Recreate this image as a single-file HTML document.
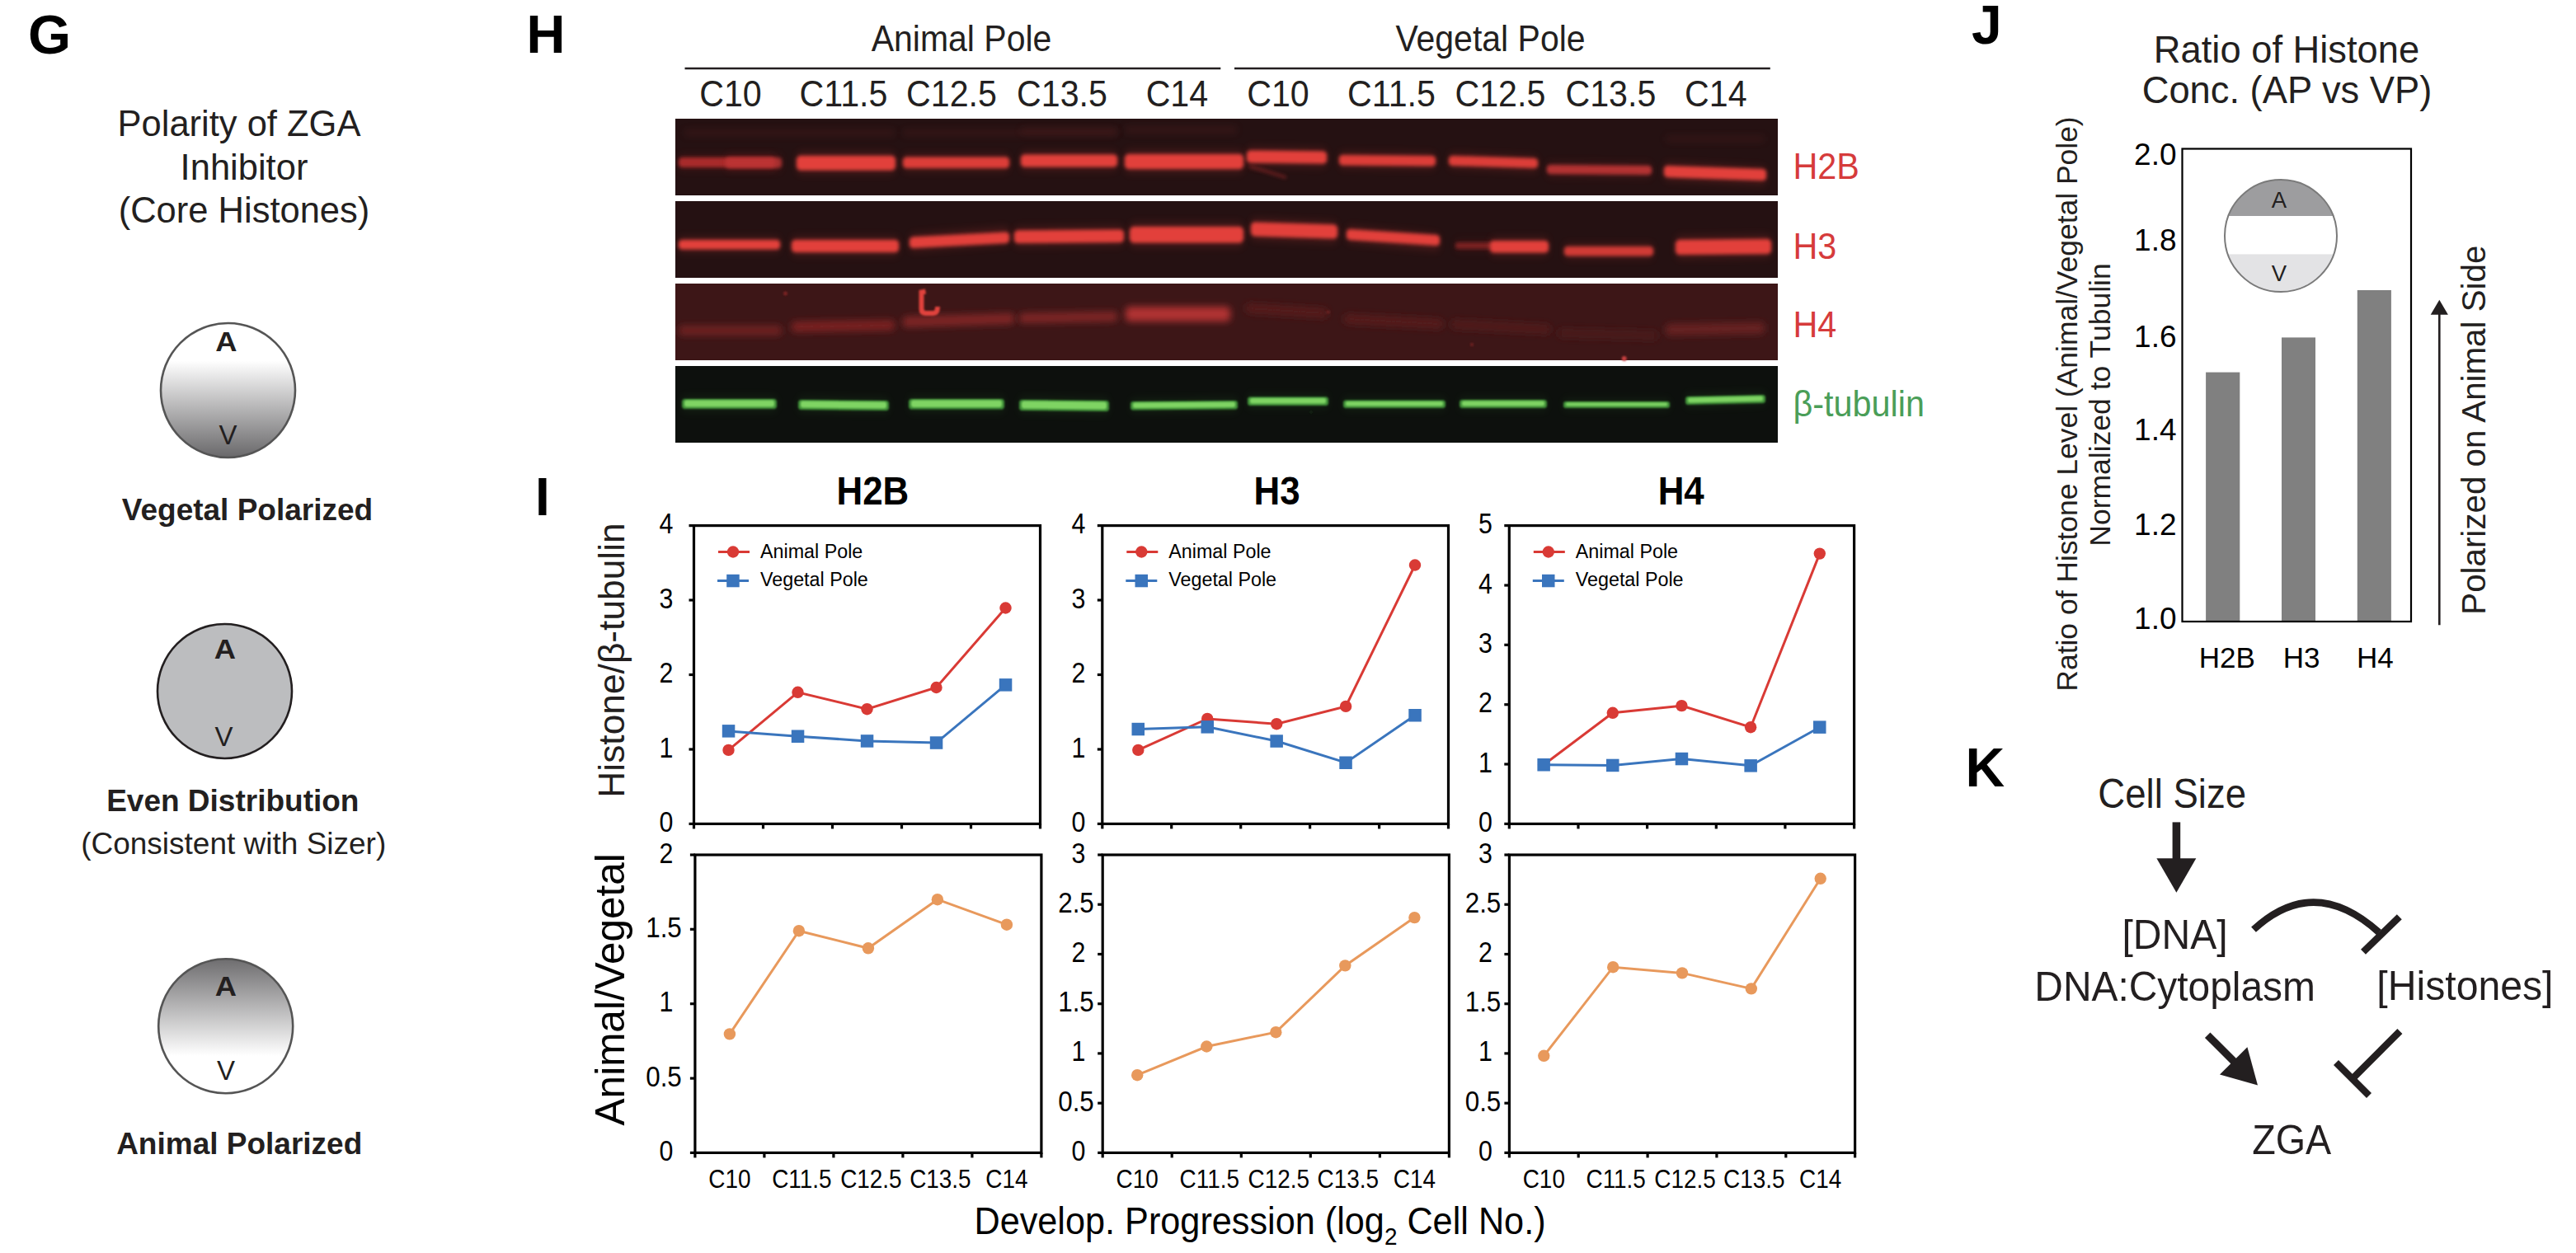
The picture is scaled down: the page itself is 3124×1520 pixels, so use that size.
<!DOCTYPE html><html><head><meta charset="utf-8"><style>html,body{margin:0;padding:0;background:#fff;width:3124px;height:1520px;overflow:hidden}svg{display:block}text{font-family:"Liberation Sans", sans-serif}</style></head><body>
<svg width="3124" height="1520" viewBox="0 0 3124 1520">
<defs>
<linearGradient id="gv" x1="0" y1="0" x2="0" y2="1"><stop offset="0" stop-color="#fff"/><stop offset="0.28" stop-color="#fff"/><stop offset="1" stop-color="#69686a"/></linearGradient>
<linearGradient id="ga" x1="0" y1="0" x2="0" y2="1"><stop offset="0" stop-color="#6e6d6f"/><stop offset="0.72" stop-color="#fff"/><stop offset="1" stop-color="#fff"/></linearGradient>
<filter id="b2" x="-10%" y="-100%" width="120%" height="300%"><feGaussianBlur stdDeviation="2.2"/></filter>
<filter id="b4" x="-10%" y="-100%" width="120%" height="300%"><feGaussianBlur stdDeviation="4"/></filter>
<filter id="b1" x="-10%" y="-100%" width="120%" height="300%"><feGaussianBlur stdDeviation="1.2"/></filter>
<clipPath id="c1"><rect x="819" y="144" width="1337" height="93"/></clipPath>
<clipPath id="c2"><rect x="819" y="244" width="1337" height="93"/></clipPath>
<clipPath id="c3"><rect x="819" y="344" width="1337" height="93"/></clipPath>
<clipPath id="c4"><rect x="819" y="444" width="1337" height="93"/></clipPath>
</defs>
<text x="34.0" y="65.0" font-size="67.0" text-anchor="start" font-weight="bold" fill="#000" >G</text>
<text x="290.0" y="165.0" font-size="43.5" text-anchor="middle" font-weight="normal" fill="#231f20" >Polarity of ZGA</text>
<text x="296.0" y="218.0" font-size="43.5" text-anchor="middle" font-weight="normal" fill="#231f20" >Inhibitor</text>
<text x="296.0" y="270.0" font-size="43.5" text-anchor="middle" font-weight="normal" fill="#231f20" >(Core Histones)</text>
<circle cx="276.5" cy="473.5" r="81.5" fill="url(#gv)" stroke="#555" stroke-width="2.6"/>
<text transform="translate(274.5,426.3) scale(1.12,1)" font-size="32.5" text-anchor="middle" font-weight="bold" fill="#231f20">A</text>
<text x="276.5" y="539.2" font-size="33.0" text-anchor="middle" font-weight="normal" fill="#231f20" >V</text>
<text x="300.0" y="631.0" font-size="37.0" text-anchor="middle" font-weight="bold" fill="#231f20" >Vegetal Polarized</text>
<circle cx="272.5" cy="838.5" r="81.5" fill="#bcbdbf" stroke="#231f20" stroke-width="2.6"/>
<text transform="translate(273,798.7) scale(1.12,1)" font-size="32.5" text-anchor="middle" font-weight="bold" fill="#231f20">A</text>
<text x="271.5" y="905.4" font-size="33.0" text-anchor="middle" font-weight="normal" fill="#231f20" >V</text>
<text x="282.3" y="983.8" font-size="37.0" text-anchor="middle" font-weight="bold" fill="#231f20" >Even Distribution</text>
<text x="283.2" y="1036.0" font-size="37.0" text-anchor="middle" font-weight="normal" fill="#231f20" >(Consistent with Sizer)</text>
<circle cx="273.7" cy="1244.8" r="81.5" fill="url(#ga)" stroke="#555" stroke-width="2.6"/>
<text transform="translate(274,1207.6) scale(1.12,1)" font-size="32.5" text-anchor="middle" font-weight="bold" fill="#231f20">A</text>
<text x="274.0" y="1310.2" font-size="33.0" text-anchor="middle" font-weight="normal" fill="#231f20" >V</text>
<text x="290.2" y="1399.8" font-size="37.0" text-anchor="middle" font-weight="bold" fill="#231f20" >Animal Polarized</text>
<text x="638.5" y="64.0" font-size="65.0" text-anchor="start" font-weight="bold" fill="#000" >H</text>
<text transform="translate(1166.0,62.0) scale(1.000,1.080)" font-size="41.0" text-anchor="middle" font-weight="normal" fill="#231f20">Animal Pole</text>
<text transform="translate(1807.5,62.0) scale(1.000,1.080)" font-size="41.0" text-anchor="middle" font-weight="normal" fill="#231f20">Vegetal Pole</text>
<line x1="830.5" y1="83" x2="1480.3" y2="83" stroke="#231f20" stroke-width="2.4"/>
<line x1="1497" y1="83" x2="2146.8" y2="83" stroke="#231f20" stroke-width="2.4"/>
<text transform="translate(886.0,129.2) scale(1.000,1.080)" font-size="41.2" text-anchor="middle" font-weight="normal" fill="#231f20">C10</text>
<text transform="translate(1023.0,129.2) scale(1.000,1.080)" font-size="41.2" text-anchor="middle" font-weight="normal" fill="#231f20">C11.5</text>
<text transform="translate(1154.0,129.2) scale(1.000,1.080)" font-size="41.2" text-anchor="middle" font-weight="normal" fill="#231f20">C12.5</text>
<text transform="translate(1288.0,129.2) scale(1.000,1.080)" font-size="41.2" text-anchor="middle" font-weight="normal" fill="#231f20">C13.5</text>
<text transform="translate(1427.4,129.2) scale(1.000,1.080)" font-size="41.2" text-anchor="middle" font-weight="normal" fill="#231f20">C14</text>
<text transform="translate(1550.0,129.2) scale(1.000,1.080)" font-size="41.2" text-anchor="middle" font-weight="normal" fill="#231f20">C10</text>
<text transform="translate(1687.5,129.2) scale(1.000,1.080)" font-size="41.2" text-anchor="middle" font-weight="normal" fill="#231f20">C11.5</text>
<text transform="translate(1819.4,129.2) scale(1.000,1.080)" font-size="41.2" text-anchor="middle" font-weight="normal" fill="#231f20">C12.5</text>
<text transform="translate(1953.4,129.2) scale(1.000,1.080)" font-size="41.2" text-anchor="middle" font-weight="normal" fill="#231f20">C13.5</text>
<text transform="translate(2080.8,129.2) scale(1.000,1.080)" font-size="41.2" text-anchor="middle" font-weight="normal" fill="#231f20">C14</text>
<filter id="fb2" filterUnits="userSpaceOnUse" x="800" y="130" width="1380" height="420"><feGaussianBlur stdDeviation="1.9"/></filter>
<filter id="fb4" filterUnits="userSpaceOnUse" x="800" y="130" width="1380" height="420"><feGaussianBlur stdDeviation="4.5"/></filter>
<filter id="fb1" filterUnits="userSpaceOnUse" x="800" y="130" width="1380" height="420"><feGaussianBlur stdDeviation="1.3"/></filter>
<filter id="fb8" filterUnits="userSpaceOnUse" x="800" y="130" width="1380" height="420"><feGaussianBlur stdDeviation="8"/></filter>
<rect x="819" y="144" width="1337" height="93" fill="#251112"/>
<rect x="819" y="244" width="1337" height="93" fill="#251112"/>
<rect x="819" y="344" width="1337" height="93" fill="#3d1617"/>
<rect x="819" y="444" width="1337" height="93" fill="#0d100d"/>
<g clip-path="url(#c1)"><polygon points="830.0,158.6 832.0,157.0 1083.0,157.0 1085.0,158.6 1085.0,163.4 1083.0,165.0 832.0,165.0 830.0,163.4" fill="#5a2020" opacity="0.30" filter="url(#fb4)"/></g>
<g clip-path="url(#c1)"><polygon points="1095.0,158.6 1097.0,157.0 1353.0,157.0 1355.0,158.6 1355.0,163.4 1353.0,165.0 1097.0,165.0 1095.0,163.4" fill="#5a2020" opacity="0.30" filter="url(#fb4)"/></g>
<g clip-path="url(#c1)"><polygon points="1238.0,156.6 1240.0,155.0 1353.0,155.0 1355.0,156.6 1355.0,161.4 1353.0,163.0 1240.0,163.0 1238.0,161.4" fill="#5a2020" opacity="0.30" filter="url(#fb4)"/></g>
<g clip-path="url(#c1)"><polygon points="1364.0,154.8 1366.2,153.0 1497.8,153.0 1500.0,154.8 1500.0,160.2 1497.8,162.0 1366.2,162.0 1364.0,160.2" fill="#5a2020" opacity="0.30" filter="url(#fb4)"/></g>
<g clip-path="url(#c1)"><polygon points="2020.0,166.4 2021.8,165.0 2138.2,165.0 2140.0,166.4 2140.0,170.6 2138.2,172.0 2021.8,172.0 2020.0,170.6" fill="#5a2020" opacity="0.30" filter="url(#fb4)"/></g>
<g clip-path="url(#c1)"><polygon points="823.0,193.4 826.0,191.0 937.0,191.0 940.0,193.4 940.0,200.6 937.0,203.0 826.0,203.0 823.0,200.6" fill="#a82c2c" opacity="0.22" filter="url(#fb4)" transform="translate(0,197.0) scale(1,1.35) translate(0,-197.0)"/></g>
<g clip-path="url(#c1)"><polygon points="823.0,193.4 826.0,191.0 937.0,191.0 940.0,193.4 940.0,200.6 937.0,203.0 826.0,203.0 823.0,200.6" fill="#a82c2c" opacity="1.00" filter="url(#fb2)"/></g>
<g clip-path="url(#c1)"><polygon points="880.0,193.6 883.0,191.0 945.0,191.0 948.0,193.6 948.0,201.4 945.0,204.0 883.0,204.0 880.0,201.4" fill="#c03434" opacity="0.18" filter="url(#fb4)" transform="translate(0,197.5) scale(1,1.35) translate(0,-197.5)"/></g>
<g clip-path="url(#c1)"><polygon points="880.0,193.6 883.0,191.0 945.0,191.0 948.0,193.6 948.0,201.4 945.0,204.0 883.0,204.0 880.0,201.4" fill="#c03434" opacity="0.80" filter="url(#fb2)"/></g>
<g clip-path="url(#c1)"><polygon points="966.0,192.5 969.0,189.0 1083.0,189.0 1086.0,192.5 1086.0,203.0 1083.0,206.5 969.0,206.5 966.0,203.0" fill="#e2403b" opacity="0.22" filter="url(#fb4)" transform="translate(0,197.8) scale(1,1.35) translate(0,-197.8)"/></g>
<g clip-path="url(#c1)"><polygon points="966.0,192.5 969.0,189.0 1083.0,189.0 1086.0,192.5 1086.0,203.0 1083.0,206.5 969.0,206.5 966.0,203.0" fill="#e2403b" opacity="1.00" filter="url(#fb2)"/></g>
<g clip-path="url(#c1)"><polygon points="1095.0,193.2 1098.0,190.5 1221.0,190.5 1224.0,193.2 1224.0,201.3 1221.0,204.0 1098.0,204.0 1095.0,201.3" fill="#dc3e39" opacity="0.22" filter="url(#fb4)" transform="translate(0,197.2) scale(1,1.35) translate(0,-197.2)"/></g>
<g clip-path="url(#c1)"><polygon points="1095.0,193.2 1098.0,190.5 1221.0,190.5 1224.0,193.2 1224.0,201.3 1221.0,204.0 1098.0,204.0 1095.0,201.3" fill="#dc3e39" opacity="1.00" filter="url(#fb2)"/></g>
<g clip-path="url(#c1)"><polygon points="1238.0,190.5 1241.0,187.5 1352.0,187.5 1355.0,190.5 1355.0,199.5 1352.0,202.5 1241.0,202.5 1238.0,199.5" fill="#e2403b" opacity="0.22" filter="url(#fb4)" transform="translate(0,195.0) scale(1,1.35) translate(0,-195.0)"/></g>
<g clip-path="url(#c1)"><polygon points="1238.0,190.5 1241.0,187.5 1352.0,187.5 1355.0,190.5 1355.0,199.5 1352.0,202.5 1241.0,202.5 1238.0,199.5" fill="#e2403b" opacity="1.00" filter="url(#fb2)"/></g>
<g clip-path="url(#c1)"><polygon points="1364.0,190.6 1367.0,187.0 1505.0,187.0 1508.0,190.6 1508.0,201.4 1505.0,205.0 1367.0,205.0 1364.0,201.4" fill="#e2403b" opacity="0.22" filter="url(#fb4)" transform="translate(0,196.0) scale(1,1.35) translate(0,-196.0)"/></g>
<g clip-path="url(#c1)"><polygon points="1364.0,190.6 1367.0,187.0 1505.0,187.0 1508.0,190.6 1508.0,201.4 1505.0,205.0 1367.0,205.0 1364.0,201.4" fill="#e2403b" opacity="1.00" filter="url(#fb2)"/></g>
<g clip-path="url(#c1)"><polygon points="1512.0,185.5 1515.0,182.5 1606.0,183.5 1609.0,186.5 1609.0,195.5 1606.0,198.5 1515.0,197.5 1512.0,194.5" fill="#e2403b" opacity="0.22" filter="url(#fb4)" transform="translate(0,190.0) scale(1,1.35) translate(0,-190.0)"/></g>
<g clip-path="url(#c1)"><polygon points="1512.0,185.5 1515.0,182.5 1606.0,183.5 1609.0,186.5 1609.0,195.5 1606.0,198.5 1515.0,197.5 1512.0,194.5" fill="#e2403b" opacity="1.00" filter="url(#fb2)"/></g>
<g clip-path="url(#c1)"><polygon points="1624.0,190.5 1627.0,188.0 1738.0,189.0 1741.0,191.5 1741.0,199.0 1738.0,201.5 1627.0,200.5 1624.0,198.0" fill="#dc3e39" opacity="0.22" filter="url(#fb4)" transform="translate(0,194.2) scale(1,1.35) translate(0,-194.2)"/></g>
<g clip-path="url(#c1)"><polygon points="1624.0,190.5 1627.0,188.0 1738.0,189.0 1741.0,191.5 1741.0,199.0 1738.0,201.5 1627.0,200.5 1624.0,198.0" fill="#dc3e39" opacity="1.00" filter="url(#fb2)"/></g>
<g clip-path="url(#c1)"><polygon points="1757.0,191.4 1760.0,189.0 1862.0,192.0 1865.0,194.4 1865.0,201.6 1862.0,204.0 1760.0,201.0 1757.0,198.6" fill="#dc3e39" opacity="0.22" filter="url(#fb4)" transform="translate(0,195.0) scale(1,1.35) translate(0,-195.0)"/></g>
<g clip-path="url(#c1)"><polygon points="1757.0,191.4 1760.0,189.0 1862.0,192.0 1865.0,194.4 1865.0,201.6 1862.0,204.0 1760.0,201.0 1757.0,198.6" fill="#dc3e39" opacity="1.00" filter="url(#fb2)"/></g>
<g clip-path="url(#c1)"><polygon points="1876.0,202.2 1878.8,200.0 2000.2,201.0 2003.0,203.2 2003.0,209.8 2000.2,212.0 1878.8,211.0 1876.0,208.8" fill="#b23030" opacity="0.22" filter="url(#fb4)" transform="translate(0,205.5) scale(1,1.35) translate(0,-205.5)"/></g>
<g clip-path="url(#c1)"><polygon points="1876.0,202.2 1878.8,200.0 2000.2,201.0 2003.0,203.2 2003.0,209.8 2000.2,212.0 1878.8,211.0 1876.0,208.8" fill="#b23030" opacity="1.00" filter="url(#fb2)"/></g>
<g clip-path="url(#c1)"><polygon points="2018.0,203.8 2021.0,201.0 2139.0,205.0 2142.0,207.8 2142.0,216.2 2139.0,219.0 2021.0,215.0 2018.0,212.2" fill="#e2403b" opacity="0.22" filter="url(#fb4)" transform="translate(0,208.0) scale(1,1.35) translate(0,-208.0)"/></g>
<g clip-path="url(#c1)"><polygon points="2018.0,203.8 2021.0,201.0 2139.0,205.0 2142.0,207.8 2142.0,216.2 2139.0,219.0 2021.0,215.0 2018.0,212.2" fill="#e2403b" opacity="1.00" filter="url(#fb2)"/></g>
<g clip-path="url(#c1)"><polygon points="1515.0,200.8 1516.0,200.0 1559.0,213.0 1560.0,213.8 1560.0,216.2 1559.0,217.0 1516.0,204.0 1515.0,203.2" fill="#902828" opacity="0.60" filter="url(#fb2)"/></g>
<g clip-path="url(#c2)"><polygon points="823.0,293.3 825.9,291.0 943.1,291.0 946.0,293.3 946.0,300.2 943.1,302.5 825.9,302.5 823.0,300.2" fill="#e2403b" opacity="0.22" filter="url(#fb4)" transform="translate(0,296.8) scale(1,1.35) translate(0,-296.8)"/></g>
<g clip-path="url(#c2)"><polygon points="823.0,293.3 825.9,291.0 943.1,291.0 946.0,293.3 946.0,300.2 943.1,302.5 825.9,302.5 823.0,300.2" fill="#e2403b" opacity="1.00" filter="url(#fb2)"/></g>
<g clip-path="url(#c2)"><polygon points="960.0,294.0 963.0,291.0 1087.0,291.0 1090.0,294.0 1090.0,303.0 1087.0,306.0 963.0,306.0 960.0,303.0" fill="#e2403b" opacity="0.22" filter="url(#fb4)" transform="translate(0,298.5) scale(1,1.35) translate(0,-298.5)"/></g>
<g clip-path="url(#c2)"><polygon points="960.0,294.0 963.0,291.0 1087.0,291.0 1090.0,294.0 1090.0,303.0 1087.0,306.0 963.0,306.0 960.0,303.0" fill="#e2403b" opacity="1.00" filter="url(#fb2)"/></g>
<g clip-path="url(#c2)"><polygon points="1103.0,290.2 1106.0,287.5 1221.0,281.5 1224.0,284.2 1224.0,292.3 1221.0,295.0 1106.0,301.0 1103.0,298.3" fill="#e2403b" opacity="0.22" filter="url(#fb4)" transform="translate(0,294.2) scale(1,1.35) translate(0,-294.2)"/></g>
<g clip-path="url(#c2)"><polygon points="1103.0,290.2 1106.0,287.5 1221.0,281.5 1224.0,284.2 1224.0,292.3 1221.0,295.0 1106.0,301.0 1103.0,298.3" fill="#e2403b" opacity="1.00" filter="url(#fb2)"/></g>
<g clip-path="url(#c2)"><polygon points="1230.0,282.6 1233.0,279.5 1360.0,278.5 1363.0,281.6 1363.0,290.9 1360.0,294.0 1233.0,295.0 1230.0,291.9" fill="#e2403b" opacity="0.22" filter="url(#fb4)" transform="translate(0,287.2) scale(1,1.35) translate(0,-287.2)"/></g>
<g clip-path="url(#c2)"><polygon points="1230.0,282.6 1233.0,279.5 1360.0,278.5 1363.0,281.6 1363.0,290.9 1360.0,294.0 1233.0,295.0 1230.0,291.9" fill="#e2403b" opacity="1.00" filter="url(#fb2)"/></g>
<g clip-path="url(#c2)"><polygon points="1370.0,278.9 1373.0,275.0 1505.0,275.0 1508.0,278.9 1508.0,290.6 1505.0,294.5 1373.0,294.5 1370.0,290.6" fill="#e2403b" opacity="0.22" filter="url(#fb4)" transform="translate(0,284.8) scale(1,1.35) translate(0,-284.8)"/></g>
<g clip-path="url(#c2)"><polygon points="1370.0,278.9 1373.0,275.0 1505.0,275.0 1508.0,278.9 1508.0,290.6 1505.0,294.5 1373.0,294.5 1370.0,290.6" fill="#e2403b" opacity="1.00" filter="url(#fb2)"/></g>
<g clip-path="url(#c2)"><polygon points="1517.0,272.9 1520.0,269.5 1619.0,272.5 1622.0,275.9 1622.0,286.1 1619.0,289.5 1520.0,286.5 1517.0,283.1" fill="#e2403b" opacity="0.22" filter="url(#fb4)" transform="translate(0,278.0) scale(1,1.35) translate(0,-278.0)"/></g>
<g clip-path="url(#c2)"><polygon points="1517.0,272.9 1520.0,269.5 1619.0,272.5 1622.0,275.9 1622.0,286.1 1619.0,289.5 1520.0,286.5 1517.0,283.1" fill="#e2403b" opacity="1.00" filter="url(#fb2)"/></g>
<g clip-path="url(#c2)"><polygon points="1633.0,280.6 1636.0,278.0 1743.0,285.0 1746.0,287.6 1746.0,295.4 1743.0,298.0 1636.0,291.0 1633.0,288.4" fill="#e2403b" opacity="0.22" filter="url(#fb4)" transform="translate(0,284.5) scale(1,1.35) translate(0,-284.5)"/></g>
<g clip-path="url(#c2)"><polygon points="1633.0,280.6 1636.0,278.0 1743.0,285.0 1746.0,287.6 1746.0,295.4 1743.0,298.0 1636.0,291.0 1633.0,288.4" fill="#e2403b" opacity="1.00" filter="url(#fb2)"/></g>
<g clip-path="url(#c2)"><polygon points="1765.0,295.6 1767.0,294.0 1808.0,294.0 1810.0,295.6 1810.0,300.4 1808.0,302.0 1767.0,302.0 1765.0,300.4" fill="#7a2222" opacity="0.22" filter="url(#fb4)" transform="translate(0,298.0) scale(1,1.35) translate(0,-298.0)"/></g>
<g clip-path="url(#c2)"><polygon points="1765.0,295.6 1767.0,294.0 1808.0,294.0 1810.0,295.6 1810.0,300.4 1808.0,302.0 1767.0,302.0 1765.0,300.4" fill="#7a2222" opacity="1.00" filter="url(#fb2)"/></g>
<g clip-path="url(#c2)"><polygon points="1807.0,294.9 1810.0,292.0 1875.0,292.0 1878.0,294.9 1878.0,303.6 1875.0,306.5 1810.0,306.5 1807.0,303.6" fill="#e2403b" opacity="0.22" filter="url(#fb4)" transform="translate(0,299.2) scale(1,1.35) translate(0,-299.2)"/></g>
<g clip-path="url(#c2)"><polygon points="1807.0,294.9 1810.0,292.0 1875.0,292.0 1878.0,294.9 1878.0,303.6 1875.0,306.5 1810.0,306.5 1807.0,303.6" fill="#e2403b" opacity="1.00" filter="url(#fb2)"/></g>
<g clip-path="url(#c2)"><polygon points="1897.0,301.3 1899.9,299.0 2002.1,299.0 2005.0,301.3 2005.0,308.2 2002.1,310.5 1899.9,310.5 1897.0,308.2" fill="#d03a36" opacity="0.22" filter="url(#fb4)" transform="translate(0,304.8) scale(1,1.35) translate(0,-304.8)"/></g>
<g clip-path="url(#c2)"><polygon points="1897.0,301.3 1899.9,299.0 2002.1,299.0 2005.0,301.3 2005.0,308.2 2002.1,310.5 1899.9,310.5 1897.0,308.2" fill="#d03a36" opacity="1.00" filter="url(#fb2)"/></g>
<g clip-path="url(#c2)"><polygon points="2032.0,294.6 2035.0,291.0 2145.0,290.0 2148.0,293.6 2148.0,304.4 2145.0,308.0 2035.0,309.0 2032.0,305.4" fill="#e2403b" opacity="0.22" filter="url(#fb4)" transform="translate(0,300.0) scale(1,1.35) translate(0,-300.0)"/></g>
<g clip-path="url(#c2)"><polygon points="2032.0,294.6 2035.0,291.0 2145.0,290.0 2148.0,293.6 2148.0,304.4 2145.0,308.0 2035.0,309.0 2032.0,305.4" fill="#e2403b" opacity="1.00" filter="url(#fb2)"/></g>
<g clip-path="url(#c3)"><polygon points="823.0,397.4 826.0,395.0 945.0,395.0 948.0,397.4 948.0,404.6 945.0,407.0 826.0,407.0 823.0,404.6" fill="#6e2020" opacity="1.00" filter="url(#fb4)"/></g>
<g clip-path="url(#c3)"><polygon points="960.0,392.6 963.0,390.0 1082.0,388.0 1085.0,390.6 1085.0,398.4 1082.0,401.0 963.0,403.0 960.0,400.4" fill="#7a2424" opacity="1.00" filter="url(#fb4)"/></g>
<g clip-path="url(#c3)"><polygon points="1095.0,386.6 1098.0,384.0 1227.0,380.0 1230.0,382.6 1230.0,390.4 1227.0,393.0 1098.0,397.0 1095.0,394.4" fill="#802626" opacity="1.00" filter="url(#fb4)"/></g>
<g clip-path="url(#c3)"><polygon points="1236.0,382.4 1239.0,380.0 1352.0,378.0 1355.0,380.4 1355.0,387.6 1352.0,390.0 1239.0,392.0 1236.0,389.6" fill="#802626" opacity="1.00" filter="url(#fb4)"/></g>
<g clip-path="url(#c3)"><polygon points="1365.0,375.6 1368.0,372.0 1489.0,372.0 1492.0,375.6 1492.0,386.4 1489.0,390.0 1368.0,390.0 1365.0,386.4" fill="#b03232" opacity="1.00" filter="url(#fb4)"/></g>
<g clip-path="url(#c3)"><polygon points="1511.0,370.4 1514.0,368.0 1607.0,374.0 1610.0,376.4 1610.0,383.6 1607.0,386.0 1514.0,380.0 1511.0,377.6" fill="#561c1c" opacity="1.00" filter="url(#fb4)"/></g>
<g clip-path="url(#c3)"><polygon points="1630.0,383.4 1633.0,381.0 1747.0,387.0 1750.0,389.4 1750.0,396.6 1747.0,399.0 1633.0,393.0 1630.0,390.6" fill="#561c1c" opacity="1.00" filter="url(#fb4)"/></g>
<g clip-path="url(#c3)"><polygon points="1760.0,390.2 1762.8,388.0 1877.2,394.0 1880.0,396.2 1880.0,402.8 1877.2,405.0 1762.8,399.0 1760.0,396.8" fill="#511b1b" opacity="1.00" filter="url(#fb4)"/></g>
<g clip-path="url(#c3)"><polygon points="1890.0,401.0 1892.5,399.0 2007.5,402.0 2010.0,404.0 2010.0,410.0 2007.5,412.0 1892.5,409.0 1890.0,407.0" fill="#4c1a1a" opacity="1.00" filter="url(#fb4)"/></g>
<g clip-path="url(#c3)"><polygon points="2020.0,395.8 2023.0,393.0 2137.0,391.0 2140.0,393.8 2140.0,402.2 2137.0,405.0 2023.0,407.0 2020.0,404.2" fill="#682121" opacity="1.00" filter="url(#fb4)"/></g>
<circle cx="952.5" cy="356.0" r="2.5" fill="#7a2424" filter="url(#fb1)"/>
<circle cx="1969.7" cy="435.0" r="3.0" fill="#c84040" filter="url(#fb1)"/>
<circle cx="1610.7" cy="378.6" r="2.2" fill="#6a2222" filter="url(#fb1)"/>
<circle cx="1785.0" cy="418.0" r="2.2" fill="#6a2222" filter="url(#fb1)"/>
<circle cx="1590.0" cy="500.0" r="1.5" fill="#1a2a1a" filter="url(#fb1)"/>
<path d="M1122.5 353.5 L1117.5 354.5 L1117.5 375 Q1117.5 380 1123 380 L1132 380 Q1137 380 1137 372" fill="none" stroke="#e0433c" stroke-width="6" filter="url(#fb1)"/>
<g clip-path="url(#c4)"><polygon points="827.0,486.4 829.0,484.0 940.0,484.0 942.0,486.4 942.0,493.6 940.0,496.0 829.0,496.0 827.0,493.6" fill="#3f8f38" opacity="0.15" filter="url(#fb4)" transform="translate(0,490.0) scale(1,1.35) translate(0,-490.0)"/></g>
<g clip-path="url(#c4)"><polygon points="827.0,486.4 829.0,484.0 940.0,484.0 942.0,486.4 942.0,493.6 940.0,496.0 829.0,496.0 827.0,493.6" fill="#3f8f38" opacity="1.00" filter="url(#fb1)"/></g>
<g clip-path="url(#c4)"><polygon points="830.0,487.1 832.0,485.5 937.0,485.5 939.0,487.1 939.0,491.9 937.0,493.5 832.0,493.5 830.0,491.9" fill="#7fd463" opacity="1.00" filter="url(#fb1)"/></g>
<g clip-path="url(#c4)"><polygon points="968.0,487.4 970.0,485.0 1076.0,486.0 1078.0,488.4 1078.0,495.6 1076.0,498.0 970.0,497.0 968.0,494.6" fill="#3f8f38" opacity="0.15" filter="url(#fb4)" transform="translate(0,491.0) scale(1,1.35) translate(0,-491.0)"/></g>
<g clip-path="url(#c4)"><polygon points="968.0,487.4 970.0,485.0 1076.0,486.0 1078.0,488.4 1078.0,495.6 1076.0,498.0 970.0,497.0 968.0,494.6" fill="#3f8f38" opacity="1.00" filter="url(#fb1)"/></g>
<g clip-path="url(#c4)"><polygon points="971.0,488.1 973.0,486.5 1073.0,487.5 1075.0,489.1 1075.0,493.9 1073.0,495.5 973.0,494.5 971.0,492.9" fill="#7fd463" opacity="1.00" filter="url(#fb1)"/></g>
<g clip-path="url(#c4)"><polygon points="1102.0,486.5 1104.0,484.0 1216.0,484.0 1218.0,486.5 1218.0,494.0 1216.0,496.5 1104.0,496.5 1102.0,494.0" fill="#3f8f38" opacity="0.15" filter="url(#fb4)" transform="translate(0,490.2) scale(1,1.35) translate(0,-490.2)"/></g>
<g clip-path="url(#c4)"><polygon points="1102.0,486.5 1104.0,484.0 1216.0,484.0 1218.0,486.5 1218.0,494.0 1216.0,496.5 1104.0,496.5 1102.0,494.0" fill="#3f8f38" opacity="1.00" filter="url(#fb1)"/></g>
<g clip-path="url(#c4)"><polygon points="1105.0,487.2 1107.0,485.5 1213.0,485.5 1215.0,487.2 1215.0,492.3 1213.0,494.0 1107.0,494.0 1105.0,492.3" fill="#7fd463" opacity="1.00" filter="url(#fb1)"/></g>
<g clip-path="url(#c4)"><polygon points="1236.0,487.6 1238.0,485.0 1343.0,486.0 1345.0,488.6 1345.0,496.4 1343.0,499.0 1238.0,498.0 1236.0,495.4" fill="#3f8f38" opacity="0.15" filter="url(#fb4)" transform="translate(0,491.5) scale(1,1.35) translate(0,-491.5)"/></g>
<g clip-path="url(#c4)"><polygon points="1236.0,487.6 1238.0,485.0 1343.0,486.0 1345.0,488.6 1345.0,496.4 1343.0,499.0 1238.0,498.0 1236.0,495.4" fill="#3f8f38" opacity="1.00" filter="url(#fb1)"/></g>
<g clip-path="url(#c4)"><polygon points="1239.0,488.3 1241.0,486.5 1340.0,487.5 1342.0,489.3 1342.0,494.7 1340.0,496.5 1241.0,495.5 1239.0,493.7" fill="#7fd463" opacity="1.00" filter="url(#fb1)"/></g>
<g clip-path="url(#c4)"><polygon points="1371.0,489.1 1373.0,487.0 1499.0,486.0 1501.0,488.1 1501.0,494.4 1499.0,496.5 1373.0,497.5 1371.0,495.4" fill="#3f8f38" opacity="0.15" filter="url(#fb4)" transform="translate(0,492.2) scale(1,1.35) translate(0,-492.2)"/></g>
<g clip-path="url(#c4)"><polygon points="1371.0,489.1 1373.0,487.0 1499.0,486.0 1501.0,488.1 1501.0,494.4 1499.0,496.5 1373.0,497.5 1371.0,495.4" fill="#3f8f38" opacity="1.00" filter="url(#fb1)"/></g>
<g clip-path="url(#c4)"><polygon points="1374.0,489.8 1376.0,488.5 1496.0,487.5 1498.0,488.8 1498.0,492.7 1496.0,494.0 1376.0,495.0 1374.0,493.7" fill="#7fd463" opacity="1.00" filter="url(#fb1)"/></g>
<g clip-path="url(#c4)"><polygon points="1513.0,483.6 1515.0,481.5 1609.0,481.5 1611.0,483.6 1611.0,489.9 1609.0,492.0 1515.0,492.0 1513.0,489.9" fill="#3f8f38" opacity="0.15" filter="url(#fb4)" transform="translate(0,486.8) scale(1,1.35) translate(0,-486.8)"/></g>
<g clip-path="url(#c4)"><polygon points="1513.0,483.6 1515.0,481.5 1609.0,481.5 1611.0,483.6 1611.0,489.9 1609.0,492.0 1515.0,492.0 1513.0,489.9" fill="#3f8f38" opacity="1.00" filter="url(#fb1)"/></g>
<g clip-path="url(#c4)"><polygon points="1516.0,484.3 1518.0,483.0 1606.0,483.0 1608.0,484.3 1608.0,488.2 1606.0,489.5 1518.0,489.5 1516.0,488.2" fill="#7fd463" opacity="1.00" filter="url(#fb1)"/></g>
<g clip-path="url(#c4)"><polygon points="1629.0,487.4 1631.0,485.5 1751.0,485.5 1753.0,487.4 1753.0,493.1 1751.0,495.0 1631.0,495.0 1629.0,493.1" fill="#3f8f38" opacity="0.15" filter="url(#fb4)" transform="translate(0,490.2) scale(1,1.35) translate(0,-490.2)"/></g>
<g clip-path="url(#c4)"><polygon points="1629.0,487.4 1631.0,485.5 1751.0,485.5 1753.0,487.4 1753.0,493.1 1751.0,495.0 1631.0,495.0 1629.0,493.1" fill="#3f8f38" opacity="1.00" filter="url(#fb1)"/></g>
<g clip-path="url(#c4)"><polygon points="1632.0,488.1 1634.0,487.0 1748.0,487.0 1750.0,488.1 1750.0,491.4 1748.0,492.5 1634.0,492.5 1632.0,491.4" fill="#7fd463" opacity="1.00" filter="url(#fb1)"/></g>
<g clip-path="url(#c4)"><polygon points="1770.0,487.0 1772.0,485.0 1874.0,485.0 1876.0,487.0 1876.0,493.0 1874.0,495.0 1772.0,495.0 1770.0,493.0" fill="#3f8f38" opacity="0.15" filter="url(#fb4)" transform="translate(0,490.0) scale(1,1.35) translate(0,-490.0)"/></g>
<g clip-path="url(#c4)"><polygon points="1770.0,487.0 1772.0,485.0 1874.0,485.0 1876.0,487.0 1876.0,493.0 1874.0,495.0 1772.0,495.0 1770.0,493.0" fill="#3f8f38" opacity="1.00" filter="url(#fb1)"/></g>
<g clip-path="url(#c4)"><polygon points="1773.0,487.7 1775.0,486.5 1871.0,486.5 1873.0,487.7 1873.0,491.3 1871.0,492.5 1775.0,492.5 1773.0,491.3" fill="#7fd463" opacity="1.00" filter="url(#fb1)"/></g>
<g clip-path="url(#c4)"><polygon points="1896.0,488.6 1898.0,487.0 2023.0,487.0 2025.0,488.6 2025.0,493.4 2023.0,495.0 1898.0,495.0 1896.0,493.4" fill="#3f8f38" opacity="0.15" filter="url(#fb4)" transform="translate(0,491.0) scale(1,1.35) translate(0,-491.0)"/></g>
<g clip-path="url(#c4)"><polygon points="1896.0,488.6 1898.0,487.0 2023.0,487.0 2025.0,488.6 2025.0,493.4 2023.0,495.0 1898.0,495.0 1896.0,493.4" fill="#3f8f38" opacity="1.00" filter="url(#fb1)"/></g>
<g clip-path="url(#c4)"><polygon points="1899.0,489.3 1901.0,488.5 2020.0,488.5 2022.0,489.3 2022.0,491.7 2020.0,492.5 1901.0,492.5 1899.0,491.7" fill="#7fd463" opacity="1.00" filter="url(#fb1)"/></g>
<g clip-path="url(#c4)"><polygon points="2044.0,483.0 2046.0,481.0 2139.0,479.0 2141.0,481.0 2141.0,487.0 2139.0,489.0 2046.0,491.0 2044.0,489.0" fill="#3f8f38" opacity="0.15" filter="url(#fb4)" transform="translate(0,486.0) scale(1,1.35) translate(0,-486.0)"/></g>
<g clip-path="url(#c4)"><polygon points="2044.0,483.0 2046.0,481.0 2139.0,479.0 2141.0,481.0 2141.0,487.0 2139.0,489.0 2046.0,491.0 2044.0,489.0" fill="#3f8f38" opacity="1.00" filter="url(#fb1)"/></g>
<g clip-path="url(#c4)"><polygon points="2047.0,483.7 2049.0,482.5 2136.0,480.5 2138.0,481.7 2138.0,485.3 2136.0,486.5 2049.0,488.5 2047.0,487.3" fill="#7fd463" opacity="1.00" filter="url(#fb1)"/></g>
<text transform="translate(2174.5,216.6) scale(0.985,1.035)" font-size="42.0" text-anchor="start" font-weight="normal" fill="#d63b3b">H2B</text>
<text transform="translate(2174.5,314.3) scale(0.985,1.035)" font-size="42.0" text-anchor="start" font-weight="normal" fill="#d63b3b">H3</text>
<text transform="translate(2174.5,409.4) scale(0.985,1.035)" font-size="42.0" text-anchor="start" font-weight="normal" fill="#d63b3b">H4</text>
<text transform="translate(2174.5,504.8) scale(0.985,1.035)" font-size="42.0" text-anchor="start" font-weight="normal" fill="#4a9e58">β-tubulin</text>
<text x="649.0" y="625.0" font-size="64.0" text-anchor="start" font-weight="bold" fill="#000" >I</text>
<text transform="translate(1058.4,611.5) scale(1.020,1.100)" font-size="43.0" text-anchor="middle" font-weight="bold" fill="#000">H2B</text>
<rect x="841.5" y="637.6" width="420.0" height="361.8" fill="none" stroke="#000" stroke-width="3.2"/>
<line x1="835.5" y1="637.6" x2="841.5" y2="637.6" stroke="#000" stroke-width="3.2"/>
<line x1="835.5" y1="728.0" x2="841.5" y2="728.0" stroke="#000" stroke-width="3.2"/>
<line x1="835.5" y1="818.5" x2="841.5" y2="818.5" stroke="#000" stroke-width="3.2"/>
<line x1="835.5" y1="909.0" x2="841.5" y2="909.0" stroke="#000" stroke-width="3.2"/>
<line x1="835.5" y1="999.4" x2="841.5" y2="999.4" stroke="#000" stroke-width="3.2"/>
<line x1="841.5" y1="999.4" x2="841.5" y2="1005.4" stroke="#000" stroke-width="3.2"/>
<line x1="925.5" y1="999.4" x2="925.5" y2="1005.4" stroke="#000" stroke-width="3.2"/>
<line x1="1009.5" y1="999.4" x2="1009.5" y2="1005.4" stroke="#000" stroke-width="3.2"/>
<line x1="1093.5" y1="999.4" x2="1093.5" y2="1005.4" stroke="#000" stroke-width="3.2"/>
<line x1="1177.5" y1="999.4" x2="1177.5" y2="1005.4" stroke="#000" stroke-width="3.2"/>
<line x1="1261.5" y1="999.4" x2="1261.5" y2="1005.4" stroke="#000" stroke-width="3.2"/>
<text transform="translate(808.0,1008.9) scale(0.920,1.050)" font-size="33.0" text-anchor="middle" font-weight="normal" fill="#000">0</text>
<text transform="translate(808.0,918.5) scale(0.920,1.050)" font-size="33.0" text-anchor="middle" font-weight="normal" fill="#000">1</text>
<text transform="translate(808.0,828.0) scale(0.920,1.050)" font-size="33.0" text-anchor="middle" font-weight="normal" fill="#000">2</text>
<text transform="translate(808.0,737.5) scale(0.920,1.050)" font-size="33.0" text-anchor="middle" font-weight="normal" fill="#000">3</text>
<text transform="translate(808.0,647.1) scale(0.920,1.050)" font-size="33.0" text-anchor="middle" font-weight="normal" fill="#000">4</text>
<polyline points="883.5,909.9 967.5,839.8 1051.5,860.2 1135.5,834.0 1219.5,737.5" fill="none" stroke="#d93a35" stroke-width="3.0"/>
<circle cx="883.5" cy="909.9" r="7.2" fill="#d93a35"/>
<circle cx="967.5" cy="839.8" r="7.2" fill="#d93a35"/>
<circle cx="1051.5" cy="860.2" r="7.2" fill="#d93a35"/>
<circle cx="1135.5" cy="834.0" r="7.2" fill="#d93a35"/>
<circle cx="1219.5" cy="737.5" r="7.2" fill="#d93a35"/>
<polyline points="883.5,886.9 967.5,893.2 1051.5,898.9 1135.5,901.1 1219.5,830.9" fill="none" stroke="#3a75bd" stroke-width="3.0"/>
<rect x="875.8" y="879.1" width="15.5" height="15.5" fill="#3a75bd"/>
<rect x="959.8" y="885.5" width="15.5" height="15.5" fill="#3a75bd"/>
<rect x="1043.8" y="891.2" width="15.5" height="15.5" fill="#3a75bd"/>
<rect x="1127.8" y="893.3" width="15.5" height="15.5" fill="#3a75bd"/>
<rect x="1211.8" y="823.1" width="15.5" height="15.5" fill="#3a75bd"/>
<line x1="871.0" y1="669.5" x2="909.0" y2="669.5" stroke="#d93a35" stroke-width="3.0"/>
<circle cx="889.0" cy="669.5" r="7.2" fill="#d93a35"/>
<line x1="870.0" y1="704.5" x2="908.0" y2="704.5" stroke="#3a75bd" stroke-width="3.0"/>
<rect x="881.2" y="696.8" width="15.5" height="15.5" fill="#3a75bd"/>
<text transform="translate(922.0,677.0) scale(1.000,1.050)" font-size="23.3" text-anchor="start" font-weight="normal" fill="#000">Animal Pole</text>
<text transform="translate(922.0,710.5) scale(1.000,1.050)" font-size="23.3" text-anchor="start" font-weight="normal" fill="#000">Vegetal Pole</text>
<rect x="842.9" y="1037.0" width="420.0" height="361.4" fill="none" stroke="#000" stroke-width="3.2"/>
<line x1="836.9" y1="1037.0" x2="842.9" y2="1037.0" stroke="#000" stroke-width="3.2"/>
<line x1="836.9" y1="1127.3" x2="842.9" y2="1127.3" stroke="#000" stroke-width="3.2"/>
<line x1="836.9" y1="1217.7" x2="842.9" y2="1217.7" stroke="#000" stroke-width="3.2"/>
<line x1="836.9" y1="1308.1" x2="842.9" y2="1308.1" stroke="#000" stroke-width="3.2"/>
<line x1="836.9" y1="1398.4" x2="842.9" y2="1398.4" stroke="#000" stroke-width="3.2"/>
<line x1="842.9" y1="1398.4" x2="842.9" y2="1404.4" stroke="#000" stroke-width="3.2"/>
<line x1="926.9" y1="1398.4" x2="926.9" y2="1404.4" stroke="#000" stroke-width="3.2"/>
<line x1="1010.9" y1="1398.4" x2="1010.9" y2="1404.4" stroke="#000" stroke-width="3.2"/>
<line x1="1094.9" y1="1398.4" x2="1094.9" y2="1404.4" stroke="#000" stroke-width="3.2"/>
<line x1="1178.9" y1="1398.4" x2="1178.9" y2="1404.4" stroke="#000" stroke-width="3.2"/>
<line x1="1262.9" y1="1398.4" x2="1262.9" y2="1404.4" stroke="#000" stroke-width="3.2"/>
<text transform="translate(808.0,1407.9) scale(0.920,1.050)" font-size="33.0" text-anchor="middle" font-weight="normal" fill="#000">0</text>
<text transform="translate(805.0,1317.6) scale(0.950,1.050)" font-size="33.0" text-anchor="middle" font-weight="normal" fill="#000">0.5</text>
<text transform="translate(808.0,1227.2) scale(0.920,1.050)" font-size="33.0" text-anchor="middle" font-weight="normal" fill="#000">1</text>
<text transform="translate(805.0,1136.8) scale(0.950,1.050)" font-size="33.0" text-anchor="middle" font-weight="normal" fill="#000">1.5</text>
<text transform="translate(808.0,1046.5) scale(0.920,1.050)" font-size="33.0" text-anchor="middle" font-weight="normal" fill="#000">2</text>
<polyline points="884.9,1254.4 968.9,1129.2 1052.9,1150.3 1136.9,1091.2 1220.9,1121.7" fill="none" stroke="#e8995c" stroke-width="3.0"/>
<circle cx="884.9" cy="1254.4" r="7.2" fill="#e8995c"/>
<circle cx="968.9" cy="1129.2" r="7.2" fill="#e8995c"/>
<circle cx="1052.9" cy="1150.3" r="7.2" fill="#e8995c"/>
<circle cx="1136.9" cy="1091.2" r="7.2" fill="#e8995c"/>
<circle cx="1220.9" cy="1121.7" r="7.2" fill="#e8995c"/>
<text transform="translate(884.9,1441) scale(0.915,1)" font-size="30.5" text-anchor="middle" fill="#000">C10</text>
<text transform="translate(972.4,1441) scale(0.915,1)" font-size="30.5" text-anchor="middle" fill="#000">C11.5</text>
<text transform="translate(1056.4,1441) scale(0.915,1)" font-size="30.5" text-anchor="middle" fill="#000">C12.5</text>
<text transform="translate(1140.4,1441) scale(0.915,1)" font-size="30.5" text-anchor="middle" fill="#000">C13.5</text>
<text transform="translate(1220.9,1441) scale(0.915,1)" font-size="30.5" text-anchor="middle" fill="#000">C14</text>
<text transform="translate(1548.6,611.5) scale(1.020,1.100)" font-size="43.0" text-anchor="middle" font-weight="bold" fill="#000">H3</text>
<rect x="1336.8" y="637.6" width="419.7" height="361.8" fill="none" stroke="#000" stroke-width="3.2"/>
<line x1="1330.8" y1="637.6" x2="1336.8" y2="637.6" stroke="#000" stroke-width="3.2"/>
<line x1="1330.8" y1="728.0" x2="1336.8" y2="728.0" stroke="#000" stroke-width="3.2"/>
<line x1="1330.8" y1="818.5" x2="1336.8" y2="818.5" stroke="#000" stroke-width="3.2"/>
<line x1="1330.8" y1="909.0" x2="1336.8" y2="909.0" stroke="#000" stroke-width="3.2"/>
<line x1="1330.8" y1="999.4" x2="1336.8" y2="999.4" stroke="#000" stroke-width="3.2"/>
<line x1="1336.8" y1="999.4" x2="1336.8" y2="1005.4" stroke="#000" stroke-width="3.2"/>
<line x1="1420.7" y1="999.4" x2="1420.7" y2="1005.4" stroke="#000" stroke-width="3.2"/>
<line x1="1504.7" y1="999.4" x2="1504.7" y2="1005.4" stroke="#000" stroke-width="3.2"/>
<line x1="1588.6" y1="999.4" x2="1588.6" y2="1005.4" stroke="#000" stroke-width="3.2"/>
<line x1="1672.6" y1="999.4" x2="1672.6" y2="1005.4" stroke="#000" stroke-width="3.2"/>
<line x1="1756.5" y1="999.4" x2="1756.5" y2="1005.4" stroke="#000" stroke-width="3.2"/>
<text transform="translate(1308.0,1008.9) scale(0.920,1.050)" font-size="33.0" text-anchor="middle" font-weight="normal" fill="#000">0</text>
<text transform="translate(1308.0,918.5) scale(0.920,1.050)" font-size="33.0" text-anchor="middle" font-weight="normal" fill="#000">1</text>
<text transform="translate(1308.0,828.0) scale(0.920,1.050)" font-size="33.0" text-anchor="middle" font-weight="normal" fill="#000">2</text>
<text transform="translate(1308.0,737.5) scale(0.920,1.050)" font-size="33.0" text-anchor="middle" font-weight="normal" fill="#000">3</text>
<text transform="translate(1308.0,647.1) scale(0.920,1.050)" font-size="33.0" text-anchor="middle" font-weight="normal" fill="#000">4</text>
<polyline points="1380.3,909.9 1464.2,871.9 1548.2,878.2 1632.1,856.9 1716.0,685.5" fill="none" stroke="#d93a35" stroke-width="3.0"/>
<circle cx="1380.3" cy="909.9" r="7.2" fill="#d93a35"/>
<circle cx="1464.2" cy="871.9" r="7.2" fill="#d93a35"/>
<circle cx="1548.2" cy="878.2" r="7.2" fill="#d93a35"/>
<circle cx="1632.1" cy="856.9" r="7.2" fill="#d93a35"/>
<circle cx="1716.0" cy="685.5" r="7.2" fill="#d93a35"/>
<polyline points="1380.3,884.5 1464.2,881.8 1548.2,899.0 1632.1,925.2 1716.0,867.8" fill="none" stroke="#3a75bd" stroke-width="3.0"/>
<rect x="1372.5" y="876.8" width="15.5" height="15.5" fill="#3a75bd"/>
<rect x="1456.5" y="874.1" width="15.5" height="15.5" fill="#3a75bd"/>
<rect x="1540.4" y="891.3" width="15.5" height="15.5" fill="#3a75bd"/>
<rect x="1624.3" y="917.5" width="15.5" height="15.5" fill="#3a75bd"/>
<rect x="1708.3" y="860.0" width="15.5" height="15.5" fill="#3a75bd"/>
<line x1="1366.3" y1="669.5" x2="1404.3" y2="669.5" stroke="#d93a35" stroke-width="3.0"/>
<circle cx="1384.3" cy="669.5" r="7.2" fill="#d93a35"/>
<line x1="1365.3" y1="704.5" x2="1403.3" y2="704.5" stroke="#3a75bd" stroke-width="3.0"/>
<rect x="1376.5" y="696.8" width="15.5" height="15.5" fill="#3a75bd"/>
<text transform="translate(1417.3,677.0) scale(1.000,1.050)" font-size="23.3" text-anchor="start" font-weight="normal" fill="#000">Animal Pole</text>
<text transform="translate(1417.3,710.5) scale(1.000,1.050)" font-size="23.3" text-anchor="start" font-weight="normal" fill="#000">Vegetal Pole</text>
<rect x="1337.2" y="1037.0" width="420.2" height="361.4" fill="none" stroke="#000" stroke-width="3.2"/>
<line x1="1331.2" y1="1037.0" x2="1337.2" y2="1037.0" stroke="#000" stroke-width="3.2"/>
<line x1="1331.2" y1="1097.2" x2="1337.2" y2="1097.2" stroke="#000" stroke-width="3.2"/>
<line x1="1331.2" y1="1157.5" x2="1337.2" y2="1157.5" stroke="#000" stroke-width="3.2"/>
<line x1="1331.2" y1="1217.7" x2="1337.2" y2="1217.7" stroke="#000" stroke-width="3.2"/>
<line x1="1331.2" y1="1277.9" x2="1337.2" y2="1277.9" stroke="#000" stroke-width="3.2"/>
<line x1="1331.2" y1="1338.2" x2="1337.2" y2="1338.2" stroke="#000" stroke-width="3.2"/>
<line x1="1331.2" y1="1398.4" x2="1337.2" y2="1398.4" stroke="#000" stroke-width="3.2"/>
<line x1="1337.2" y1="1398.4" x2="1337.2" y2="1404.4" stroke="#000" stroke-width="3.2"/>
<line x1="1421.2" y1="1398.4" x2="1421.2" y2="1404.4" stroke="#000" stroke-width="3.2"/>
<line x1="1505.3" y1="1398.4" x2="1505.3" y2="1404.4" stroke="#000" stroke-width="3.2"/>
<line x1="1589.3" y1="1398.4" x2="1589.3" y2="1404.4" stroke="#000" stroke-width="3.2"/>
<line x1="1673.4" y1="1398.4" x2="1673.4" y2="1404.4" stroke="#000" stroke-width="3.2"/>
<line x1="1757.4" y1="1398.4" x2="1757.4" y2="1404.4" stroke="#000" stroke-width="3.2"/>
<text transform="translate(1308.0,1407.9) scale(0.920,1.050)" font-size="33.0" text-anchor="middle" font-weight="normal" fill="#000">0</text>
<text transform="translate(1305.0,1347.7) scale(0.950,1.050)" font-size="33.0" text-anchor="middle" font-weight="normal" fill="#000">0.5</text>
<text transform="translate(1308.0,1287.4) scale(0.920,1.050)" font-size="33.0" text-anchor="middle" font-weight="normal" fill="#000">1</text>
<text transform="translate(1305.0,1227.2) scale(0.950,1.050)" font-size="33.0" text-anchor="middle" font-weight="normal" fill="#000">1.5</text>
<text transform="translate(1308.0,1167.0) scale(0.920,1.050)" font-size="33.0" text-anchor="middle" font-weight="normal" fill="#000">2</text>
<text transform="translate(1305.0,1106.7) scale(0.950,1.050)" font-size="33.0" text-anchor="middle" font-weight="normal" fill="#000">2.5</text>
<text transform="translate(1308.0,1046.5) scale(0.920,1.050)" font-size="33.0" text-anchor="middle" font-weight="normal" fill="#000">3</text>
<polyline points="1379.2,1304.2 1463.3,1269.5 1547.3,1252.2 1631.3,1171.4 1715.4,1113.1" fill="none" stroke="#e8995c" stroke-width="3.0"/>
<circle cx="1379.2" cy="1304.2" r="7.2" fill="#e8995c"/>
<circle cx="1463.3" cy="1269.5" r="7.2" fill="#e8995c"/>
<circle cx="1547.3" cy="1252.2" r="7.2" fill="#e8995c"/>
<circle cx="1631.3" cy="1171.4" r="7.2" fill="#e8995c"/>
<circle cx="1715.4" cy="1113.1" r="7.2" fill="#e8995c"/>
<text transform="translate(1379.2,1441) scale(0.915,1)" font-size="30.5" text-anchor="middle" fill="#000">C10</text>
<text transform="translate(1466.8,1441) scale(0.915,1)" font-size="30.5" text-anchor="middle" fill="#000">C11.5</text>
<text transform="translate(1550.8,1441) scale(0.915,1)" font-size="30.5" text-anchor="middle" fill="#000">C12.5</text>
<text transform="translate(1634.8,1441) scale(0.915,1)" font-size="30.5" text-anchor="middle" fill="#000">C13.5</text>
<text transform="translate(1715.4,1441) scale(0.915,1)" font-size="30.5" text-anchor="middle" fill="#000">C14</text>
<text transform="translate(2038.7,611.5) scale(1.020,1.100)" font-size="43.0" text-anchor="middle" font-weight="bold" fill="#000">H4</text>
<rect x="1830.3" y="637.6" width="418.3" height="361.8" fill="none" stroke="#000" stroke-width="3.2"/>
<line x1="1824.3" y1="637.6" x2="1830.3" y2="637.6" stroke="#000" stroke-width="3.2"/>
<line x1="1824.3" y1="710.0" x2="1830.3" y2="710.0" stroke="#000" stroke-width="3.2"/>
<line x1="1824.3" y1="782.3" x2="1830.3" y2="782.3" stroke="#000" stroke-width="3.2"/>
<line x1="1824.3" y1="854.7" x2="1830.3" y2="854.7" stroke="#000" stroke-width="3.2"/>
<line x1="1824.3" y1="927.0" x2="1830.3" y2="927.0" stroke="#000" stroke-width="3.2"/>
<line x1="1824.3" y1="999.4" x2="1830.3" y2="999.4" stroke="#000" stroke-width="3.2"/>
<line x1="1830.3" y1="999.4" x2="1830.3" y2="1005.4" stroke="#000" stroke-width="3.2"/>
<line x1="1914.0" y1="999.4" x2="1914.0" y2="1005.4" stroke="#000" stroke-width="3.2"/>
<line x1="1997.6" y1="999.4" x2="1997.6" y2="1005.4" stroke="#000" stroke-width="3.2"/>
<line x1="2081.3" y1="999.4" x2="2081.3" y2="1005.4" stroke="#000" stroke-width="3.2"/>
<line x1="2164.9" y1="999.4" x2="2164.9" y2="1005.4" stroke="#000" stroke-width="3.2"/>
<line x1="2248.6" y1="999.4" x2="2248.6" y2="1005.4" stroke="#000" stroke-width="3.2"/>
<text transform="translate(1801.5,1008.9) scale(0.920,1.050)" font-size="33.0" text-anchor="middle" font-weight="normal" fill="#000">0</text>
<text transform="translate(1801.5,936.5) scale(0.920,1.050)" font-size="33.0" text-anchor="middle" font-weight="normal" fill="#000">1</text>
<text transform="translate(1801.5,864.2) scale(0.920,1.050)" font-size="33.0" text-anchor="middle" font-weight="normal" fill="#000">2</text>
<text transform="translate(1801.5,791.8) scale(0.920,1.050)" font-size="33.0" text-anchor="middle" font-weight="normal" fill="#000">3</text>
<text transform="translate(1801.5,719.5) scale(0.920,1.050)" font-size="33.0" text-anchor="middle" font-weight="normal" fill="#000">4</text>
<text transform="translate(1801.5,647.1) scale(0.920,1.050)" font-size="33.0" text-anchor="middle" font-weight="normal" fill="#000">5</text>
<polyline points="1872.1,927.8 1955.8,864.8 2039.4,856.1 2123.1,882.2 2206.8,671.6" fill="none" stroke="#d93a35" stroke-width="3.0"/>
<circle cx="1872.1" cy="927.8" r="7.2" fill="#d93a35"/>
<circle cx="1955.8" cy="864.8" r="7.2" fill="#d93a35"/>
<circle cx="2039.4" cy="856.1" r="7.2" fill="#d93a35"/>
<circle cx="2123.1" cy="882.2" r="7.2" fill="#d93a35"/>
<circle cx="2206.8" cy="671.6" r="7.2" fill="#d93a35"/>
<polyline points="1872.1,927.8 1955.8,928.5 2039.4,920.5 2123.1,928.8 2206.8,882.2" fill="none" stroke="#3a75bd" stroke-width="3.0"/>
<rect x="1864.4" y="920.0" width="15.5" height="15.5" fill="#3a75bd"/>
<rect x="1948.0" y="920.7" width="15.5" height="15.5" fill="#3a75bd"/>
<rect x="2031.7" y="912.8" width="15.5" height="15.5" fill="#3a75bd"/>
<rect x="2115.4" y="921.1" width="15.5" height="15.5" fill="#3a75bd"/>
<rect x="2199.0" y="874.4" width="15.5" height="15.5" fill="#3a75bd"/>
<line x1="1859.8" y1="669.5" x2="1897.8" y2="669.5" stroke="#d93a35" stroke-width="3.0"/>
<circle cx="1877.8" cy="669.5" r="7.2" fill="#d93a35"/>
<line x1="1858.8" y1="704.5" x2="1896.8" y2="704.5" stroke="#3a75bd" stroke-width="3.0"/>
<rect x="1870.0" y="696.8" width="15.5" height="15.5" fill="#3a75bd"/>
<text transform="translate(1910.8,677.0) scale(1.000,1.050)" font-size="23.3" text-anchor="start" font-weight="normal" fill="#000">Animal Pole</text>
<text transform="translate(1910.8,710.5) scale(1.000,1.050)" font-size="23.3" text-anchor="start" font-weight="normal" fill="#000">Vegetal Pole</text>
<rect x="1830.4" y="1037.0" width="419.2" height="361.4" fill="none" stroke="#000" stroke-width="3.2"/>
<line x1="1824.4" y1="1037.0" x2="1830.4" y2="1037.0" stroke="#000" stroke-width="3.2"/>
<line x1="1824.4" y1="1097.2" x2="1830.4" y2="1097.2" stroke="#000" stroke-width="3.2"/>
<line x1="1824.4" y1="1157.5" x2="1830.4" y2="1157.5" stroke="#000" stroke-width="3.2"/>
<line x1="1824.4" y1="1217.7" x2="1830.4" y2="1217.7" stroke="#000" stroke-width="3.2"/>
<line x1="1824.4" y1="1277.9" x2="1830.4" y2="1277.9" stroke="#000" stroke-width="3.2"/>
<line x1="1824.4" y1="1338.2" x2="1830.4" y2="1338.2" stroke="#000" stroke-width="3.2"/>
<line x1="1824.4" y1="1398.4" x2="1830.4" y2="1398.4" stroke="#000" stroke-width="3.2"/>
<line x1="1830.4" y1="1398.4" x2="1830.4" y2="1404.4" stroke="#000" stroke-width="3.2"/>
<line x1="1914.2" y1="1398.4" x2="1914.2" y2="1404.4" stroke="#000" stroke-width="3.2"/>
<line x1="1998.1" y1="1398.4" x2="1998.1" y2="1404.4" stroke="#000" stroke-width="3.2"/>
<line x1="2081.9" y1="1398.4" x2="2081.9" y2="1404.4" stroke="#000" stroke-width="3.2"/>
<line x1="2165.8" y1="1398.4" x2="2165.8" y2="1404.4" stroke="#000" stroke-width="3.2"/>
<line x1="2249.6" y1="1398.4" x2="2249.6" y2="1404.4" stroke="#000" stroke-width="3.2"/>
<text transform="translate(1801.5,1407.9) scale(0.920,1.050)" font-size="33.0" text-anchor="middle" font-weight="normal" fill="#000">0</text>
<text transform="translate(1798.5,1347.7) scale(0.950,1.050)" font-size="33.0" text-anchor="middle" font-weight="normal" fill="#000">0.5</text>
<text transform="translate(1801.5,1287.4) scale(0.920,1.050)" font-size="33.0" text-anchor="middle" font-weight="normal" fill="#000">1</text>
<text transform="translate(1798.5,1227.2) scale(0.950,1.050)" font-size="33.0" text-anchor="middle" font-weight="normal" fill="#000">1.5</text>
<text transform="translate(1801.5,1167.0) scale(0.920,1.050)" font-size="33.0" text-anchor="middle" font-weight="normal" fill="#000">2</text>
<text transform="translate(1798.5,1106.7) scale(0.950,1.050)" font-size="33.0" text-anchor="middle" font-weight="normal" fill="#000">2.5</text>
<text transform="translate(1801.5,1046.5) scale(0.920,1.050)" font-size="33.0" text-anchor="middle" font-weight="normal" fill="#000">3</text>
<polyline points="1872.3,1280.8 1956.2,1173.2 2040.0,1180.4 2123.8,1199.4 2207.7,1065.8" fill="none" stroke="#e8995c" stroke-width="3.0"/>
<circle cx="1872.3" cy="1280.8" r="7.2" fill="#e8995c"/>
<circle cx="1956.2" cy="1173.2" r="7.2" fill="#e8995c"/>
<circle cx="2040.0" cy="1180.4" r="7.2" fill="#e8995c"/>
<circle cx="2123.8" cy="1199.4" r="7.2" fill="#e8995c"/>
<circle cx="2207.7" cy="1065.8" r="7.2" fill="#e8995c"/>
<text transform="translate(1872.3,1441) scale(0.915,1)" font-size="30.5" text-anchor="middle" fill="#000">C10</text>
<text transform="translate(1959.7,1441) scale(0.915,1)" font-size="30.5" text-anchor="middle" fill="#000">C11.5</text>
<text transform="translate(2043.5,1441) scale(0.915,1)" font-size="30.5" text-anchor="middle" fill="#000">C12.5</text>
<text transform="translate(2127.3,1441) scale(0.915,1)" font-size="30.5" text-anchor="middle" fill="#000">C13.5</text>
<text transform="translate(2207.7,1441) scale(0.915,1)" font-size="30.5" text-anchor="middle" fill="#000">C14</text>
<text transform="translate(757,801) rotate(-90)" font-size="44.3" text-anchor="middle" fill="#231f20">Histone/β-tubulin</text>
<text transform="translate(757,1200.3) rotate(-90)" font-size="49.5" text-anchor="middle" fill="#000">Animal/Vegetal</text>
<text transform="translate(1528,1497) scale(0.93,1)" font-size="46.5" text-anchor="middle" fill="#000">Develop. Progression (log<tspan font-size="30" dy="13">2</tspan><tspan dy="-13"> Cell No.)</tspan></text>
<text x="2391.0" y="53.0" font-size="66.0" text-anchor="start" font-weight="bold" fill="#000" >J</text>
<text x="2773.0" y="75.8" font-size="45.3" text-anchor="middle" font-weight="normal" fill="#231f20" >Ratio of Histone</text>
<text x="2773.5" y="124.7" font-size="45.3" text-anchor="middle" font-weight="normal" fill="#231f20" >Conc. (AP vs VP)</text>
<text transform="translate(2519.4,490) rotate(-90)" font-size="35.45" text-anchor="middle" fill="#231f20">Ratio of Histone Level (Animal/Vegetal Pole)</text>
<text transform="translate(2559.3,491) rotate(-90)" font-size="35.5" text-anchor="middle" fill="#231f20">Normalized to Tubulin</text>
<rect x="2675.1" y="451.6" width="41.2" height="302.4" fill="#808080"/>
<rect x="2767.0" y="409.4" width="41.0" height="344.6" fill="#808080"/>
<rect x="2858.8" y="352.0" width="41.1" height="402.0" fill="#808080"/>
<rect x="2646.5" y="180.5" width="277.5" height="573.5" fill="none" stroke="#000" stroke-width="2.2"/>
<text x="2639.5" y="200.0" font-size="37.0" text-anchor="end" font-weight="normal" fill="#000" >2.0</text>
<text x="2639.5" y="304.0" font-size="37.0" text-anchor="end" font-weight="normal" fill="#000" >1.8</text>
<text x="2639.5" y="420.5" font-size="37.0" text-anchor="end" font-weight="normal" fill="#000" >1.6</text>
<text x="2639.5" y="533.5" font-size="37.0" text-anchor="end" font-weight="normal" fill="#000" >1.4</text>
<text x="2639.5" y="649.0" font-size="37.0" text-anchor="end" font-weight="normal" fill="#000" >1.2</text>
<text x="2639.5" y="763.0" font-size="37.0" text-anchor="end" font-weight="normal" fill="#000" >1.0</text>
<clipPath id="cc"><circle cx="2766" cy="286" r="68"/></clipPath>
<g clip-path="url(#cc)"><rect x="2690" y="210" width="160" height="52" fill="#9d9d9f"/><rect x="2690" y="308.4" width="160" height="60" fill="#e3e3e5"/></g>
<circle cx="2766" cy="286" r="68" fill="none" stroke="#7a7a7a" stroke-width="2"/>
<text x="2764.0" y="251.7" font-size="27.5" text-anchor="middle" font-weight="normal" fill="#231f20" >A</text>
<text x="2764.0" y="340.6" font-size="27.5" text-anchor="middle" font-weight="normal" fill="#231f20" >V</text>
<text x="2700.9" y="810.4" font-size="35.0" text-anchor="middle" font-weight="normal" fill="#000" >H2B</text>
<text x="2791.0" y="810.4" font-size="35.0" text-anchor="middle" font-weight="normal" fill="#000" >H3</text>
<text x="2880.3" y="810.4" font-size="35.0" text-anchor="middle" font-weight="normal" fill="#000" >H4</text>
<line x1="2958.3" y1="380" x2="2958.3" y2="758.3" stroke="#231f20" stroke-width="2.6"/>
<polygon points="2958.3,363.7 2968.9,381.8 2947.7,381.8" fill="#231f20"/>
<text transform="translate(3013.9,521.7) rotate(-90)" font-size="40.3" text-anchor="middle" fill="#231f20">Polarized on Animal Side</text>
<text x="2383.5" y="953.5" font-size="66.0" text-anchor="start" font-weight="bold" fill="#000" >K</text>
<text x="2544.3" y="979.8" font-size="50.0" textLength="179.8" lengthAdjust="spacingAndGlyphs" fill="#231f20">Cell Size</text>
<text x="2573.5" y="1150.9" font-size="50.0" textLength="128.2" lengthAdjust="spacingAndGlyphs" fill="#231f20">[DNA]</text>
<text x="2467.3" y="1213.5" font-size="50.0" textLength="340.6" lengthAdjust="spacingAndGlyphs" fill="#231f20">DNA:Cytoplasm</text>
<text x="2882.3" y="1212.7" font-size="50.0" textLength="214.2" lengthAdjust="spacingAndGlyphs" fill="#231f20">[Histones]</text>
<text x="2731.2" y="1399.9" font-size="50.0" textLength="96.0" lengthAdjust="spacingAndGlyphs" fill="#231f20">ZGA</text>
<rect x="2634.6" y="997.4" width="9.6" height="45" fill="#231f20"/>
<polygon points="2615.4,1041.3 2663.3,1041.3 2639.4,1082.8" fill="#231f20"/>
<path d="M2733 1127.7 Q2806 1060 2885 1131" fill="none" stroke="#231f20" stroke-width="8.5"/>
<line x1="2866" y1="1154.7" x2="2909.8" y2="1112.2" stroke="#231f20" stroke-width="8.5"/>
<line x1="2677.2" y1="1255.7" x2="2712" y2="1290.5" stroke="#231f20" stroke-width="9.2"/>
<polygon points="2692,1303.6 2725.4,1270.2 2738,1316.4" fill="#231f20"/>
<line x1="2910.4" y1="1250.9" x2="2853" y2="1308.6" stroke="#231f20" stroke-width="8.5"/>
<line x1="2833" y1="1289" x2="2873" y2="1328.9" stroke="#231f20" stroke-width="8.5"/>
</svg></body></html>
